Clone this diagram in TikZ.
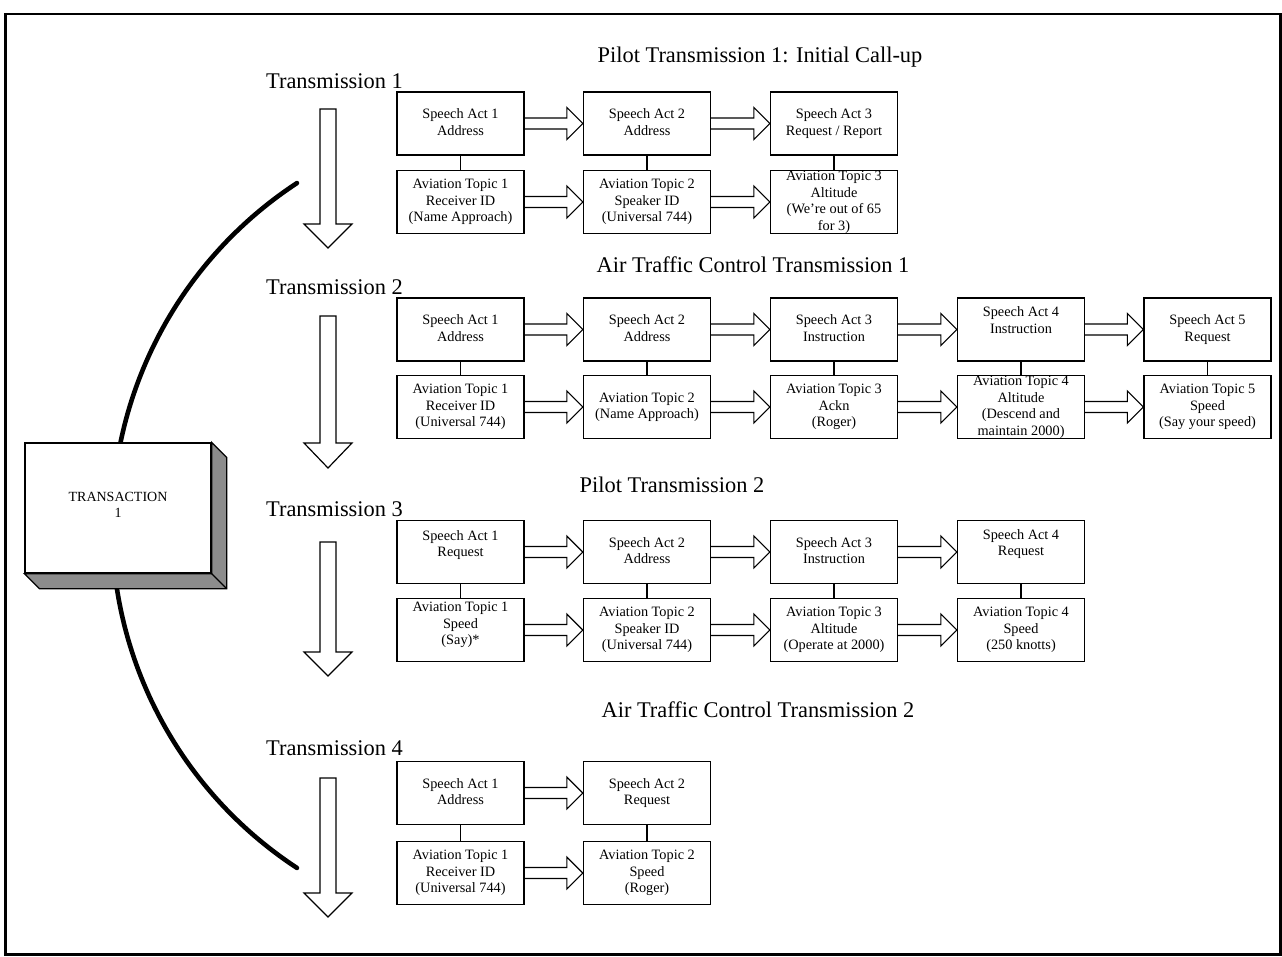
\documentclass[tikz,border=0pt]{standalone}
\usepackage{fontspec}
\setmainfont{Liberation Serif}
\usetikzlibrary{calc}
\newcommand\bt[2][0]{\raisebox{\dimexpr #1pt - 3.6pt\relax}[0pt][0pt]{\begin{tabular}{@{}c@{}}#2\end{tabular}}}
\newcommand\harr[2]{\draw[arr] let \p1=(#1.east), \p2=(#2.west) in
  ({\x1},{\y1+5.5pt}) -- ({\x2-16pt},{\y1+5.5pt}) -- ({\x2-16pt},{\y1+16pt}) -- ({\x2},{\y1})
  -- ({\x2-16pt},{\y1-16pt}) -- ({\x2-16pt},{\y1-5.5pt}) -- ({\x1},{\y1-5.5pt});}
\newcommand\varr[3]{\draw[arr] (320,#1) -- (336,#1) -- (336,#2) -- (352,#2) -- (328,#3) -- (304,#2) -- (320,#2) -- cycle;}
\newcommand\vlink[2]{\draw[link] (#1.south) -- (#2.north);}
\begin{document}
\begin{tikzpicture}[x=1pt,y=-1pt,
  box/.style={draw, line width=1.3pt, minimum width=127pt, minimum height=63pt, inner sep=0pt,
    font=\fontsize{14.3}{16.5}\selectfont},
  arr/.style={line width=1.2pt, line join=miter},
  link/.style={line width=1.2pt},
  title/.style={font=\fontsize{22.4}{26}\selectfont, anchor=base, inner sep=0pt},
]
\useasboundingbox (0,0) rectangle (1282,956);
\draw[line width=2.7pt] (5.5,14) rectangle (1280.5,954.5);

% big arc
\draw[line width=4.6pt, line cap=round] plot[domain=123.25:236.75, samples=90, smooth]
  ({521.5+409.5*cos(\x)}, {525.5-409.5*sin(\x)});

% transaction box
\node[draw, fill=white, line width=1.3pt, minimum width=186pt, minimum height=130pt, inner sep=0pt,
  font=\fontsize{14}{16}\selectfont] (trans) at (118,508) {\bt[2]{TRANSACTION\\1}};
\filldraw[fill=black!45, line width=1.3pt, line join=miter] (trans.north east) -- ++(15,15)
  -- ([shift={(15,15)}]trans.south east) -- ([shift={(15,15)}]trans.south west)
  -- (trans.south west) -- (trans.south east) -- cycle;
\draw[line width=1.3pt] (trans.south east) -- ++(15,15);

% vertical arrows
\varr{109}{224}{248}
\varr{316}{443}{468}
\varr{542}{652}{676}
\varr{778}{893}{917}

% labels
\node[title] (tr1) at (334.5,88) {Transmission 1};
\node[title] (tr2) at (334.5,294) {Transmission 2};
\node[title] (tr3) at (334.5,516) {Transmission 3};
\node[title] (tr4) at (334.5,755) {Transmission 4};
\node[title] (ti1) at (760,62) {Pilot Transmission 1: Initial Call-up};
\node[title] (ti2) at (753,272) {Air Traffic Control Transmission 1};
\node[title] (ti3) at (672,492) {Pilot Transmission 2};
\node[title] (ti4) at (758,717) {Air Traffic Control Transmission 2};

% Row 1
\node[box] (a1) at (460.5,123.5) {\bt{Speech Act 1\\Address}};
\node[box] (a2) at (647,123.5) {\bt{Speech Act 2\\Address}};
\node[box] (a3) at (834,123.5) {\bt{Speech Act 3\\Request / Report}};
\node[box] (b1) at (460.5,202) {\bt{Aviation Topic 1\\Receiver ID\\(Name Approach)}};
\node[box] (b2) at (647,202) {\bt{Aviation Topic 2\\Speaker ID\\(Universal 744)}};
\node[box] (b3) at (834,202) {\bt{Aviation Topic 3\\Altitude\\(We're out of 65\\for 3)}};
\vlink{a1}{b1}\vlink{a2}{b2}\vlink{a3}{b3}
\harr{a1}{a2}\harr{a2}{a3}
\harr{b1}{b2}\harr{b2}{b3}

% Row 2
\node[box] (c1) at (460.5,329.5) {\bt{Speech Act 1\\Address}};
\node[box] (c2) at (647,329.5) {\bt{Speech Act 2\\Address}};
\node[box] (c3) at (834,329.5) {\bt{Speech Act 3\\Instruction}};
\node[box] (c4) at (1021,329.5) {\bt[8]{Speech Act 4\\Instruction}};
\node[box] (c5) at (1207.5,329.5) {\bt{Speech Act 5\\Request}};
\node[box] (d1) at (460.5,407) {\bt{Aviation Topic 1\\Receiver ID\\(Universal 744)}};
\node[box] (d2) at (647,407) {\bt{Aviation Topic 2\\(Name Approach)}};
\node[box] (d3) at (834,407) {\bt{Aviation Topic 3\\Ackn\\(Roger)}};
\node[box] (d4) at (1021,407) {\bt{Aviation Topic 4\\Altitude\\(Descend and\\maintain 2000)}};
\node[box] (d5) at (1207.5,407) {\bt{Aviation Topic 5\\Speed\\(Say your speed)}};
\vlink{c1}{d1}\vlink{c2}{d2}\vlink{c3}{d3}\vlink{c4}{d4}\vlink{c5}{d5}
\harr{c1}{c2}\harr{c2}{c3}\harr{c3}{c4}\harr{c4}{c5}
\harr{d1}{d2}\harr{d2}{d3}\harr{d3}{d4}\harr{d4}{d5}

% Row 3
\node[box] (e1) at (460.5,552) {\bt[7]{Speech Act 1\\Request}};
\node[box] (e2) at (647,552) {\bt{Speech Act 2\\Address}};
\node[box] (e3) at (834,552) {\bt{Speech Act 3\\Instruction}};
\node[box] (e4) at (1021,552) {\bt[8]{Speech Act 4\\Request}};
\node[box] (f1) at (460.5,630) {\bt[5]{Aviation Topic 1\\Speed\\(Say)*}};
\node[box] (f2) at (647,630) {\bt{Aviation Topic 2\\Speaker ID\\(Universal 744)}};
\node[box] (f3) at (834,630) {\bt{Aviation Topic 3\\Altitude\\(Operate at 2000)}};
\node[box] (f4) at (1021,630) {\bt{Aviation Topic 4\\Speed\\(250 knotts)}};
\vlink{e1}{f1}\vlink{e2}{f2}\vlink{e3}{f3}\vlink{e4}{f4}
\harr{e1}{e2}\harr{e2}{e3}\harr{e3}{e4}
\harr{f1}{f2}\harr{f2}{f3}\harr{f3}{f4}

% Row 4
\node[box] (g1) at (460.5,793) {\bt{Speech Act 1\\Address}};
\node[box] (g2) at (647,793) {\bt{Speech Act 2\\Request}};
\node[box] (h1) at (460.5,873) {\bt{Aviation Topic 1\\Receiver ID\\(Universal 744)}};
\node[box] (h2) at (647,873) {\bt{Aviation Topic 2\\Speed\\(Roger)}};
\vlink{g1}{h1}\vlink{g2}{h2}
\harr{g1}{g2}
\harr{h1}{h2}
\end{tikzpicture}
\end{document}
